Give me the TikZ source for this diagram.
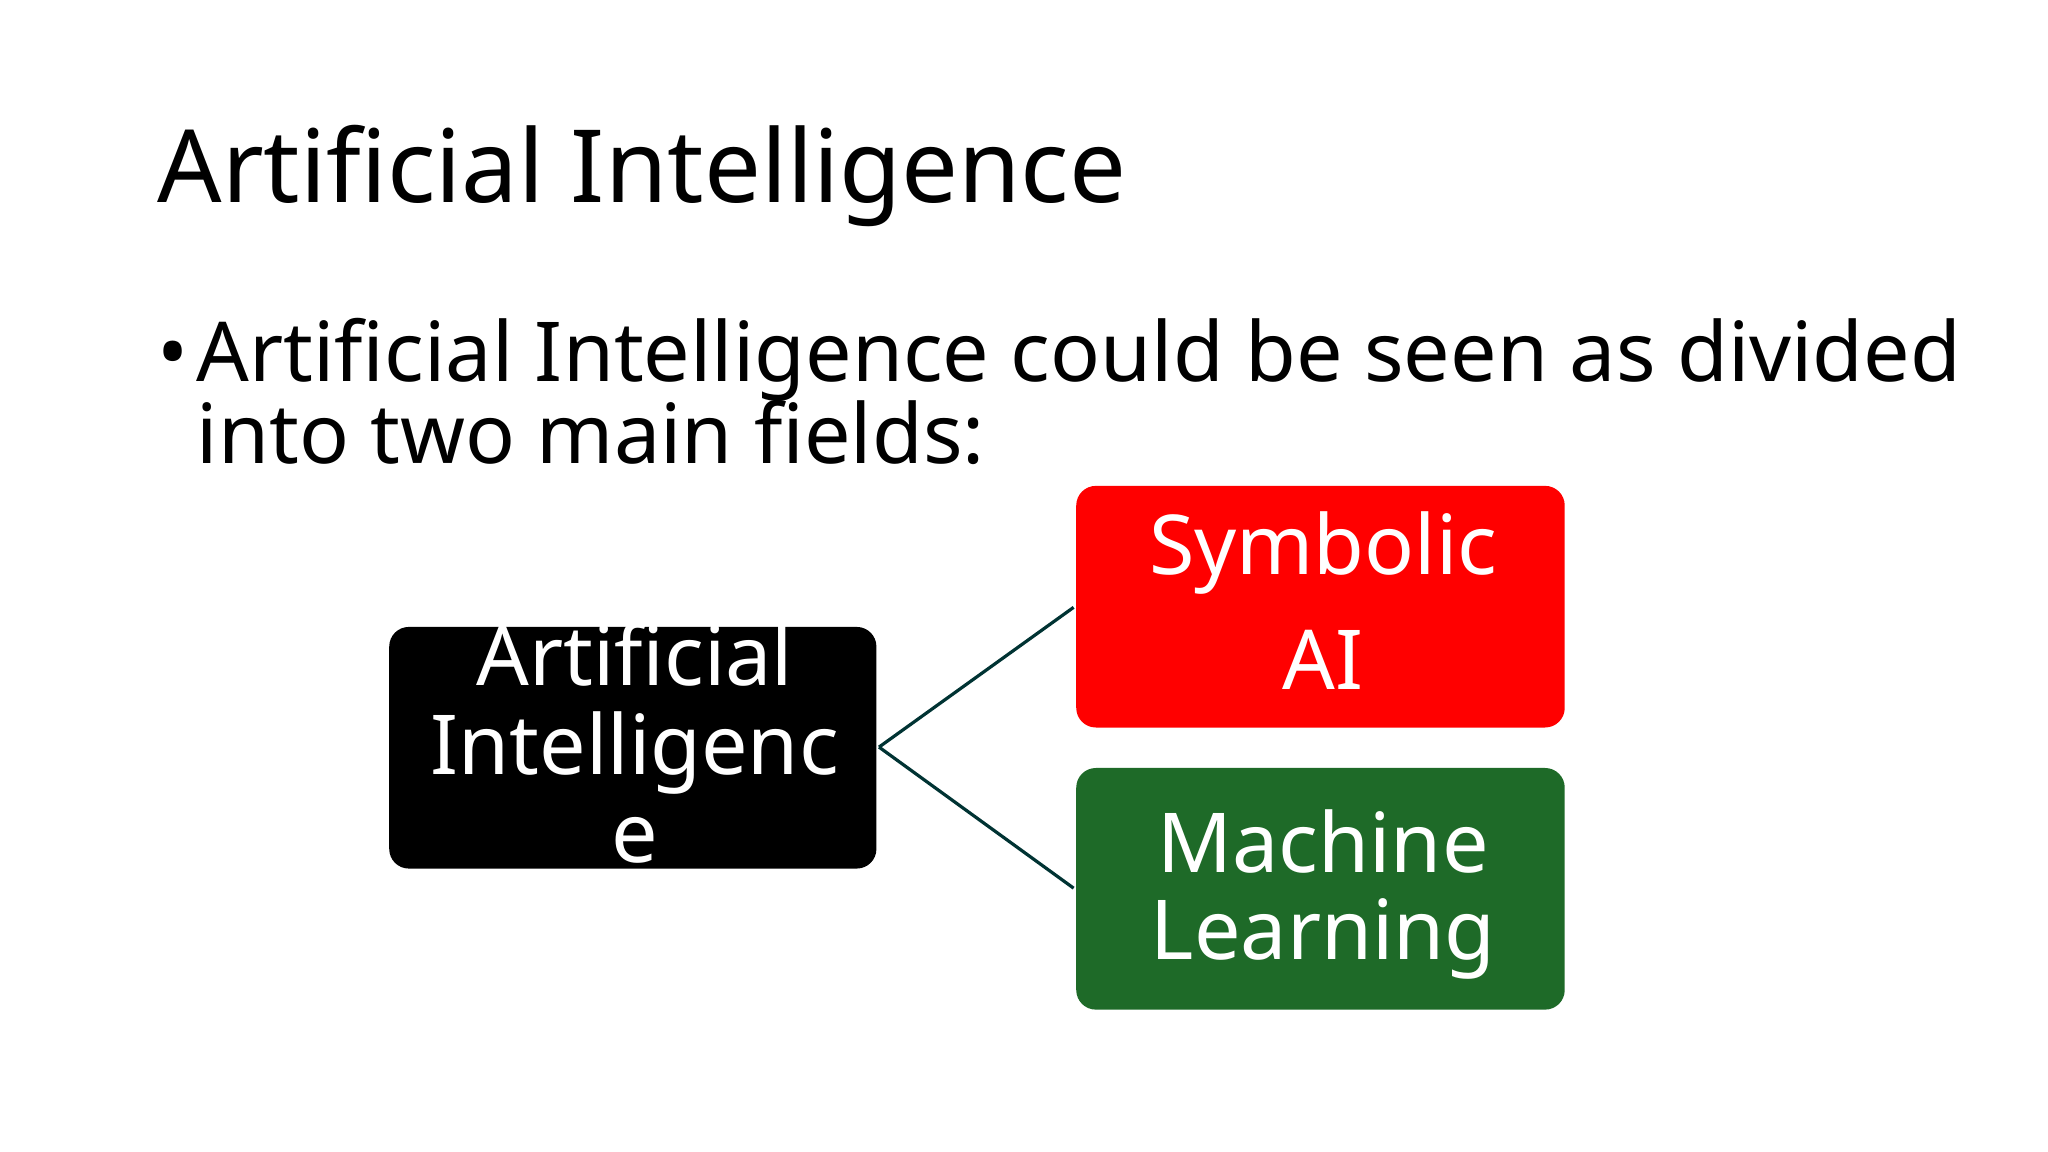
\documentclass[tikz,border=0pt]{standalone}
\usepackage{fontspec}
\setmainfont{Noto Sans}
\begin{document}
\begin{tikzpicture}[x=0.01cm,y=-0.01cm,
  box/.style={rounded corners=0.15cm,draw=none},
  btxt/.style={anchor=base,text=white,font=\fontsize{18}{20}\selectfont\bfseries,inner sep=0pt},
  conn/.style={draw=black!60!teal,line width=0.7pt}]
\useasboundingbox (0,0) rectangle (1568,882);
\fill[white] (0,0) rectangle (1568,882);
\node[anchor=base west,inner sep=0pt,font=\fontsize{22}{24}\selectfont\bfseries] (title) at (120,155) {Artificial Intelligence};
\node[anchor=base west,inner sep=0pt,font=\fontsize{18}{20}\selectfont] (bul) at (120,292) {\textbullet};
\node[anchor=base west,inner sep=0pt,font=\fontsize{18}{20}\selectfont] (l1) at (150,292) {Artificial Intelligence could be seen as divided};
\node[anchor=base west,inner sep=0pt,font=\fontsize{18}{20}\selectfont] (l2) at (150,355) {into two main fields:};
\fill[box,black] (298,480) rectangle (671,665);
\fill[box,red] (824,372) rectangle (1198,557);
\fill[box,fill={rgb,255:red,30;green,106;blue,40}] (824,588) rectangle (1198,773);
\coordinate (ai) at (673,572);
\coordinate (sy) at (822,465);
\coordinate (ml) at (822,680);
\draw[conn] (ai) -- (sy);
\draw[conn] (ai) -- (ml);
\node[btxt] (a1) at (486,525) {Artificial};
\node[btxt] (a2) at (486,593) {Intelligenc};
\node[btxt] (a3) at (486,660) {e};
\node[btxt] (s1) at (1013,440) {Symbolic};
\node[btxt] (s2) at (1013,528) {AI};
\node[btxt] (m1) at (1013,668) {Machine};
\node[btxt] (m2) at (1013,735) {Learning};
\end{tikzpicture}
\end{document}
